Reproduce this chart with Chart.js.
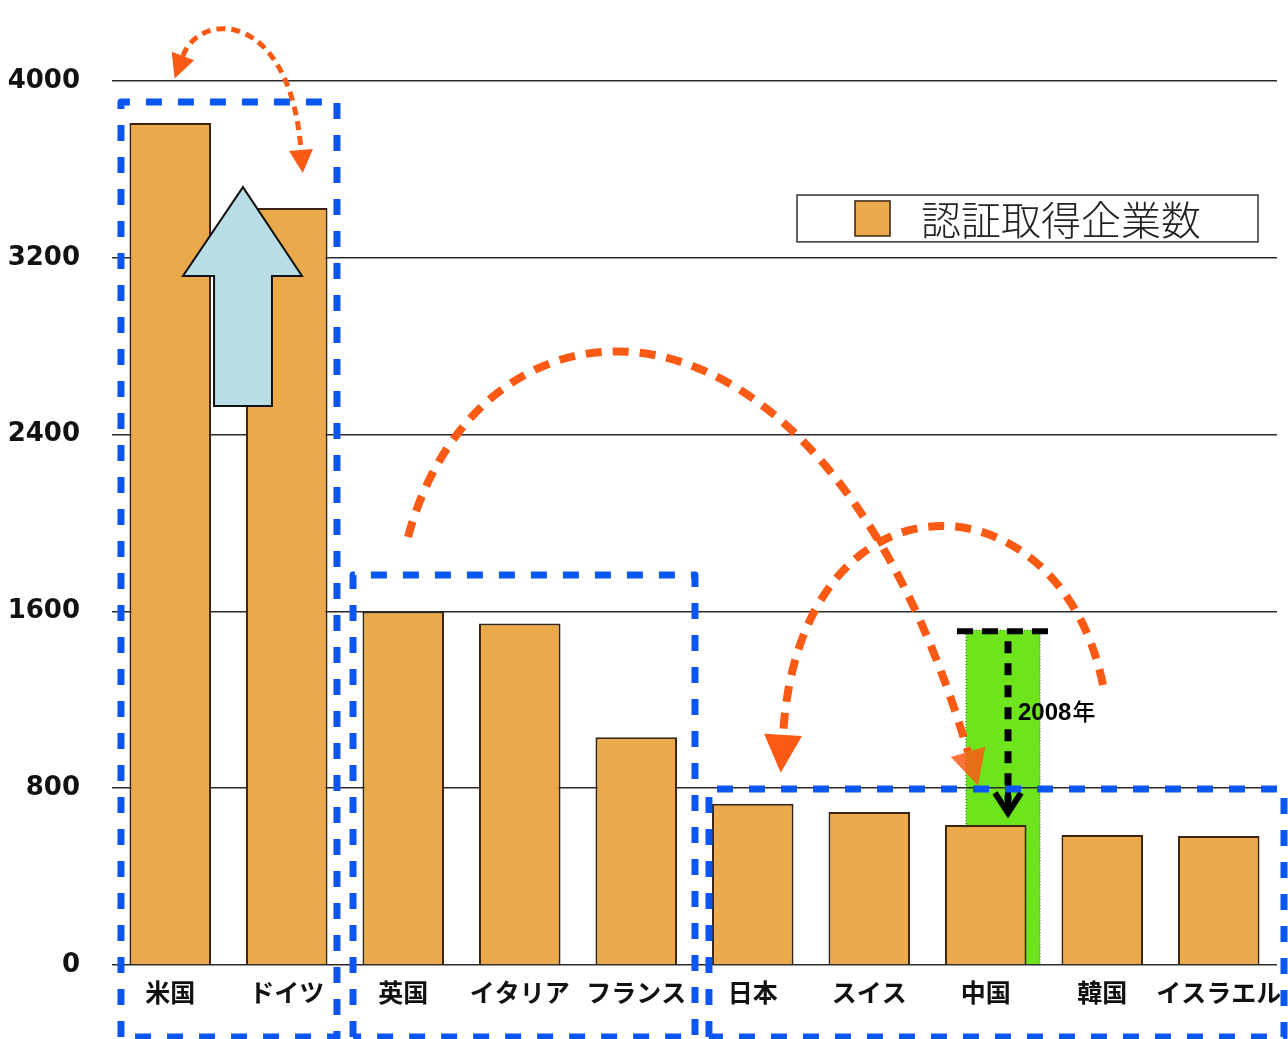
<!DOCTYPE html>
<html><head><meta charset="utf-8">
<script src="https://cdn.jsdelivr.net/npm/chart.js@4"></script>
<style>html,body{margin:0;padding:0;background:#fff;} #wrap{width:1288px;height:1039px;position:relative;}</style>
</head><body><div id="wrap"><canvas id="c"></canvas></div>
<script>
// ---- data ----
const categories = ['米国','ドイツ','英国','イタリア','フランス','日本','スイス','中国','韓国','イスラエル'];
const companies = [3810, 3425, 1600, 1545, 1030, 730, 692, 634, 588, 584];
const yTicks = [0, 800, 1600, 2400, 3200, 4000];
const seriesLabel = '認証取得企業数';
const china2008Value = 1515;
const china2008Label = '2008年';

// ---- annotation geometry in data units (x: category index, y: value) ----
const groupBoxes = [
  {x1:-0.423, x2:1.431, y1:3905, y2:-326},
  {x1:1.569, x2:4.504, y1:1765, y2:-326},
  {x1:4.624, x2:9.56, y1:796, y2:-326}
];
const upArrow = {tip:[0.624,3520], headY:3118, headL:0.109, headR:1.131, shaftL:0.376, shaftR:0.873, bottom:2529};
const arcs = [
  {p:[[0.109,4113],[0.255,4321],[1.028,4321],[1.122,3688]], w:5, dash:[9,6], startHead:24, endHead:23, half:12},
  {p:[[2.041,1937],[2.659,3145],[5.577,3235],[6.848,964]], w:8, dash:[16,11], startHead:0, endHead:35, half:18, alpha:0.85},
  {p:[[8.006,1267],[7.637,2240],[5.406,2285],[5.260,1041]], w:8, dash:[16,11], startHead:0, endHead:38, half:19}
];
const greenBar = {x1:6.83, x2:7.466};
const blackLine = {x1:6.753, x2:7.603, arrowX:7.191, labelX:7.277, labelY:1109};
const legendBox = {x1:5.38, x2:9.337, y1:3484, y2:3272};

const BLUE = '#0b55f2', ORANGE = '#fb5a14', BAR = '#eaaa4c', BAR_EDGE = '#3b2410';

function head(ctx, bx, by, dx, dy, len, half){
  const n = Math.hypot(dx,dy); dx/=n; dy/=n;
  const tx = bx + dx*len, ty = by + dy*len;
  const px = -dy, py = dx;
  ctx.beginPath();
  ctx.moveTo(tx,ty);
  ctx.lineTo(bx + px*half, by + py*half);
  ctx.lineTo(bx - px*half, by - py*half);
  ctx.closePath(); ctx.fill();
}

const annot = {
  id:'annot',
  beforeDraw(chart){
    const ctx = chart.ctx, X = v=>chart.scales.x.getPixelForValue(v), Y = v=>chart.scales.y.getPixelForValue(v);
    ctx.save();
    const x1 = X(greenBar.x1), x2 = X(greenBar.x2), yt = Y(china2008Value), yb = Y(0);
    ctx.fillStyle = '#6ee41c';
    ctx.fillRect(x1, yt, x2-x1, yb-yt);
    ctx.strokeStyle = '#2d6e12'; ctx.lineWidth = 1; ctx.setLineDash([1,2]);
    ctx.beginPath(); ctx.moveTo(x1,yb); ctx.lineTo(x1,yt); ctx.lineTo(x2,yt); ctx.lineTo(x2,yb); ctx.stroke();
    ctx.restore();
  },
  afterDraw(chart){
    const ctx = chart.ctx, X = v=>chart.scales.x.getPixelForValue(v), Y = v=>chart.scales.y.getPixelForValue(v);
    ctx.save();
    // legend
    const lx1 = X(legendBox.x1), lx2 = X(legendBox.x2), ly1 = Y(legendBox.y1), ly2 = Y(legendBox.y2);
    ctx.fillStyle = '#fff'; ctx.fillRect(lx1, ly1, lx2-lx1, ly2-ly1);
    ctx.strokeStyle = '#333'; ctx.lineWidth = 1.5; ctx.strokeRect(lx1, ly1, lx2-lx1, ly2-ly1);
    const sq = 35, sqx = lx1 + 58, sqy = (ly1+ly2)/2 - sq/2;
    ctx.fillStyle = BAR; ctx.fillRect(sqx, sqy, sq, sq);
    ctx.strokeStyle = BAR_EDGE; ctx.lineWidth = 1.5; ctx.strokeRect(sqx, sqy, sq, sq);
    ctx.fillStyle = '#222'; ctx.font = '300 40px "Noto Sans CJK JP"'; ctx.textBaseline = 'middle'; ctx.textAlign = 'left';
    ctx.fillText(seriesLabel, sqx + sq + 31, (ly1+ly2)/2 + 1);

    // light blue up arrow
    ctx.beginPath();
    ctx.moveTo(X(upArrow.tip[0]), Y(upArrow.tip[1]));
    ctx.lineTo(X(upArrow.headR), Y(upArrow.headY));
    ctx.lineTo(X(upArrow.shaftR), Y(upArrow.headY));
    ctx.lineTo(X(upArrow.shaftR), Y(upArrow.bottom));
    ctx.lineTo(X(upArrow.shaftL), Y(upArrow.bottom));
    ctx.lineTo(X(upArrow.shaftL), Y(upArrow.headY));
    ctx.lineTo(X(upArrow.headL), Y(upArrow.headY));
    ctx.closePath();
    ctx.fillStyle = '#b9dde5'; ctx.fill();
    ctx.strokeStyle = '#111'; ctx.lineWidth = 2; ctx.stroke();

    // black dashed line + down arrow
    ctx.strokeStyle = '#000'; ctx.fillStyle = '#000';
    const hy = Y(china2008Value) + 1;
    ctx.lineWidth = 6; ctx.setLineDash([16,9]);
    ctx.beginPath(); ctx.moveTo(X(blackLine.x1), hy); ctx.lineTo(X(blackLine.x2), hy); ctx.stroke();
    const ax = X(blackLine.arrowX), tipY = Y(companies[7]) - 10;
    ctx.lineWidth = 7; ctx.setLineDash([12,10]);
    ctx.beginPath(); ctx.moveTo(ax, hy + 10); ctx.lineTo(ax, tipY - 14); ctx.stroke();
    ctx.setLineDash([]); ctx.lineWidth = 6; ctx.lineJoin = 'miter';
    ctx.beginPath(); ctx.moveTo(ax-13, tipY-22); ctx.lineTo(ax, tipY-2); ctx.lineTo(ax+13, tipY-22); ctx.stroke();
    ctx.beginPath(); ctx.moveTo(ax, tipY-30); ctx.lineTo(ax, tipY-4); ctx.stroke();
    ctx.font = 'bold 24px "Liberation Sans"'; ctx.textBaseline = 'alphabetic';
    const lx = X(blackLine.labelX), lyy = Y(blackLine.labelY);
    ctx.fillText('2008', lx, lyy);
    const w2008 = ctx.measureText('2008').width;
    ctx.font = '500 23px "Noto Sans CJK JP"';
    ctx.fillText('年', lx + w2008 + 1, lyy);

    // blue dashed group boxes
    ctx.strokeStyle = BLUE; ctx.lineWidth = 7; ctx.setLineDash([16,16]); ctx.lineJoin='round';
    groupBoxes.forEach(b=>{
      const a = X(b.x1), c = X(b.x2), t = Y(b.y1), bt = Y(b.y2);
      ctx.beginPath(); ctx.moveTo(a, bt); ctx.lineTo(a, t); ctx.lineTo(c, t); ctx.lineTo(c, bt); ctx.lineTo(a, bt); ctx.stroke();
    });

    // orange arcs
    arcs.forEach(arc=>{
      const P = arc.p.map(q=>[X(q[0]), Y(q[1])]);
      ctx.globalAlpha = 1;
      ctx.strokeStyle = ORANGE; ctx.fillStyle = ORANGE;
      ctx.lineWidth = arc.w; ctx.setLineDash(arc.dash); ctx.lineCap = 'butt';
      ctx.beginPath(); ctx.moveTo(P[0][0],P[0][1]);
      ctx.bezierCurveTo(P[1][0],P[1][1],P[2][0],P[2][1],P[3][0],P[3][1]); ctx.stroke();
      ctx.setLineDash([]);
      if (arc.alpha) ctx.globalAlpha = arc.alpha;
      if (arc.startHead) head(ctx, P[0][0], P[0][1], P[0][0]-P[1][0], P[0][1]-P[1][1], arc.startHead, arc.half);
      if (arc.endHead) head(ctx, P[3][0], P[3][1], P[3][0]-P[2][0], P[3][1]-P[2][1], arc.endHead, arc.half);
    });
    ctx.restore();
  }
};

new Chart(document.getElementById('c'), {
  type: 'bar',
  data: {
    labels: categories,
    datasets: [{
      label: seriesLabel,
      data: companies,
      backgroundColor: BAR,
      borderColor: BAR_EDGE,
      borderWidth: 2,
      barPercentage: 0.70,
      categoryPercentage: 1.0
    }]
  },
  options: {
    responsive: true, maintainAspectRatio: false, animation: false,
    layout: {padding: {top: 81, right: 11, left: 0, bottom: 0}},
    plugins: {legend: {display: false}, tooltip: {enabled: false}},
    scales: {
      x: {
        grid: {display: false, drawTicks: false},
        border: {display: false},
        ticks: {font: {family: '"Noto Sans CJK JP"', size: 25, weight: 'bold'}, color: '#111', padding: 12, maxRotation: 0, autoSkip: false},
        afterFit(s){ s.height = 74; s.paddingLeft = 0; s.paddingRight = 0; }
      },
      y: {
        min: 0, max: 4000,
        afterBuildTicks(s){ s.ticks = yTicks.map(v=>({value: v})); },
        grid: {color: '#2a2a2a', lineWidth: 1.5, drawTicks: false},
        border: {display: false},
        ticks: {font: {family: '"DejaVu Sans"', size: 26, weight: 'bold'}, color: '#111', padding: 32, callback: v => String(v)},
        afterFit(s){ s.width = 112; }
      }
    }
  },
  plugins: [annot]
});
</script></body></html>
